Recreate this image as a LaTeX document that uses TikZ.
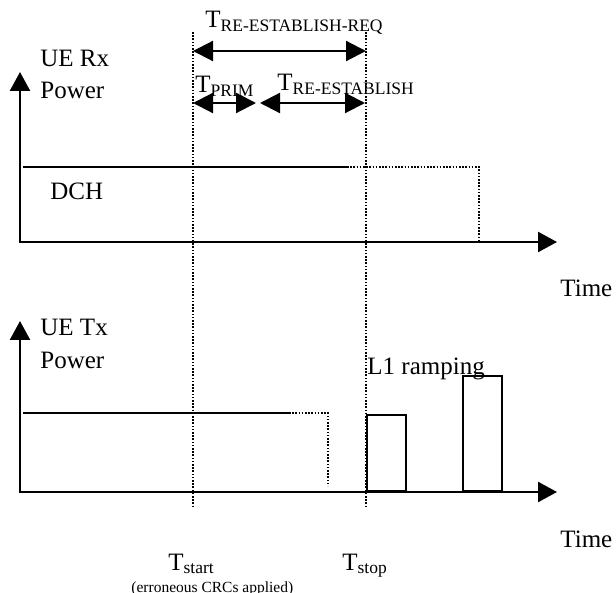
\documentclass[tikz,border=0pt]{standalone}
\usepackage{fontspec}
\setmainfont{Liberation Serif}
\usepackage{tikz}
\usetikzlibrary{arrows.meta}
\tikzset{
  axis/.style={line width=1.2pt, {Triangle[length=9.5pt,width=10pt]}-{Triangle[length=9.5pt,width=10pt]}},
  level/.style={line width=1pt},
  levelOff/.style={line width=0.8pt, dash pattern=on 0.8pt off 0.8pt},
  marker/.style={line width=0.8pt, dash pattern=on 0.8pt off 0.8pt},
  span/.style={line width=1.1pt, {Triangle[length=10pt,width=10pt]}-{Triangle[length=10pt,width=10pt]}},
  burst/.style={draw, line width=1pt, minimum width=19.5pt, inner sep=0pt, anchor=south west},
  lbl/.style={inner sep=0pt, anchor=base west, font=\fontsize{12.5}{15.5}\selectfont},
  note/.style={inner sep=0pt, anchor=base west, font=\fontsize{7.75}{9}\selectfont}
}

\begin{document}
\begin{tikzpicture}[x=0.5pt, y=-0.5pt]
  \useasboundingbox (0,0) rectangle (616,593);
  % axes
  \coordinate (rxY) at (20,72);
  \coordinate (rxO) at (20,242);
  \coordinate (rxX) at (557,242);
  \coordinate (txY) at (20,321);
  \coordinate (txO) at (20,492);
  \coordinate (txX) at (557,492);
  \draw[axis] (rxY) -- (rxO) -- (rxX);
  \draw[axis] (txY) -- (txO) -- (txX);
  % time markers
  \coordinate (startTop) at (193,32);
  \coordinate (startBot) at (193,508);
  \coordinate (stopTop) at (366,32);
  \coordinate (stopBot) at (366,508);
  \draw[marker] (startTop) -- (startBot);
  \draw[marker] (stopTop) -- (stopBot);
  % DCH level
  \coordinate (dchA) at (23,167);
  \coordinate (dchB) at (347,167);
  \coordinate (dchC) at (479,167);
  \coordinate (dchD) at (479,242);
  \draw[level] (dchA) -- (dchB);
  \draw[levelOff] (dchB) -- (dchC) -- (dchD);
  % uplink level
  \coordinate (ulA) at (23,413);
  \coordinate (ulB) at (289,413);
  \coordinate (ulC) at (328,413);
  \coordinate (ulD) at (328,486);
  \draw[level] (ulA) -- (ulB);
  \draw[levelOff] (ulB) -- (ulC) -- (ulD);
  % ramping bursts
  \node[burst, minimum height=38pt] (burstA) at (366,492) {};
  \node[burst, minimum height=57.5pt] (burstB) at (462,492) {};
  % spans
  \coordinate (reqA) at (193,51);
  \coordinate (reqB) at (366,51);
  \coordinate (primA) at (193,103);
  \coordinate (primB) at (256,103);
  \coordinate (estA) at (260,103);
  \coordinate (estB) at (365,103);
  \draw[span] (reqA) -- (reqB);
  \draw[span] (primA) -- (primB);
  \draw[span] (estA) -- (estB);
  % labels
  \node[lbl, align=left] (rxLbl) at (40,99) {UE Rx\\[0.5pt]Power};
  \node[lbl] (dchLbl) at (50,200) {DCH};
  \node[lbl] (reqLbl) at (205,28) {T\textsubscript{RE-ESTABLISH-REQ}};
  \node[lbl] (primLbl) at (195,93) {T\textsubscript{PRIM}};
  \node[lbl] (estLbl) at (277,91) {T\textsubscript{RE-ESTABLISH}};
  \node[lbl] (timeRx) at (560,297) {Time};
  \node[lbl, align=left] (txLbl) at (40,368) {UE Tx\\[1pt]Power};
  \node[lbl] (rampLbl) at (367,374) {L1 ramping};
  \node[lbl] (timeTx) at (560,547) {Time};
  \node[lbl] (startLbl) at (168,570) {T\textsubscript{start}};
  \node[lbl] (stopLbl) at (342,570) {T\textsubscript{stop}};
  \node[note] (crcLbl) at (131,592) {(erroneous CRCs applied)};
\end{tikzpicture}
\end{document}
